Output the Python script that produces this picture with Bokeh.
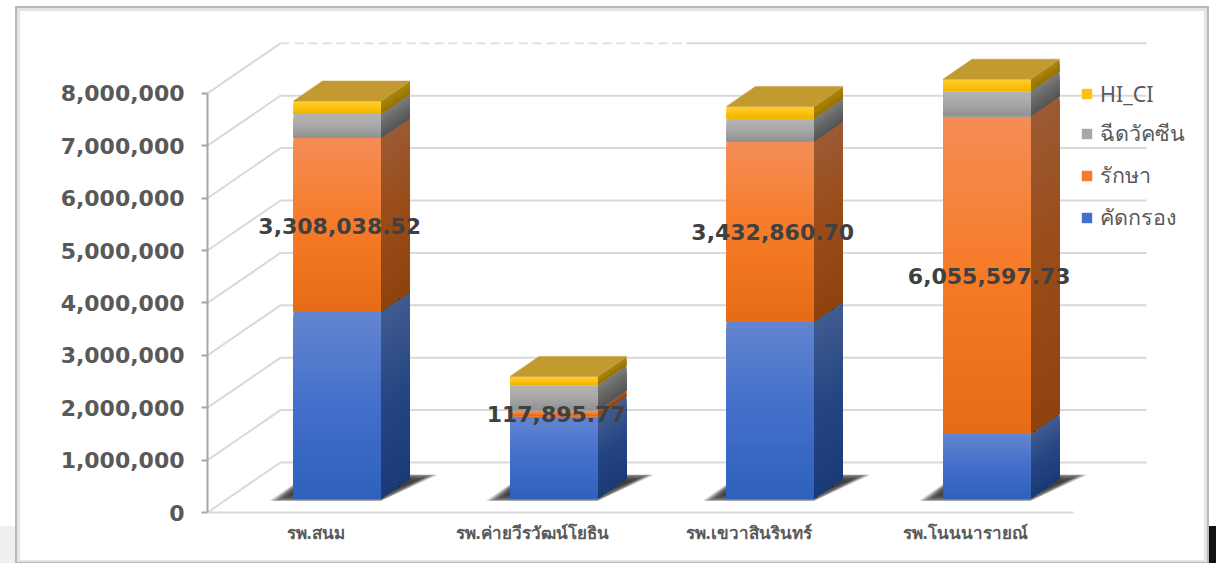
from bokeh.plotting import figure
from bokeh.models import (Range1d, FixedTicker, NumeralTickFormatter, Legend, LegendItem, LinearAxis)
from bokeh.core.properties import value
from bokeh.embed import file_html
from bokeh.resources import INLINE

# ---- data ----
hospitals = ["รพ.สนม", "รพ.ค่ายวีรวัฒน์โยธิน", "รพ.เขวาสินรินทร์", "รพ.โนนนารายณ์"]
series_names = ["คัดกรอง", "รักษา", "ฉีดวัคซีน", "HI_CI"]
screening = [3570000, 1565000, 3380000, 1240000]
treatment = [3308038.52, 117895.77, 3432860.70, 6055597.73]
vaccine = [458000, 477000, 440000, 477000]
hi_ci = [250000, 170000, 230000, 230000]
treatment_labels = ["3,308,038.52", "117,895.77", "3,432,860.70", "6,055,597.73"]
y_ticks = [0, 1000000, 2000000, 3000000, 4000000, 5000000, 6000000, 7000000, 8000000]

# ---- pixel geometry (page coordinates converted into data units) ----
W, H = 1216, 563
PXM = 52.4 / 1e6      # px per value
PXC = 216.5           # px per category
X0, Y0 = 207, 512     # position of the chart origin
FR_W = W - X0
FR_H = Y0
def dx(px): return px / PXC
def dy(px): return px / PXM

WALL_X, WALL_Y = dx(73), dy(50)
BAR_X, BAR_W = dx(21.5), dx(87.5)
BAR_Y = dy(14)
DEPTH_X, DEPTH_Y = dx(29), dy(20)

FRONT = {
    0: ["#6385d0", "#436fca", "#2f62bb"],
    1: ["#f48d55", "#f67b28", "#e76c17"],
    2: ["#b3b3b3", "#a8a8a8", "#929292"],
    3: ["#ffcb2e", "#ffc20e", "#f2b600"],
}
SIDE = {
    0: ["#415b90", "#264682", "#1b3b76"],
    1: ["#9c5a34", "#9a4c18", "#8e430e"],
    2: ["#7a7a7a", "#666666", "#565656"],
    3: ["#a8860f", "#a27d05", "#967300"],
}
TOP_COLOR = "#c29a30"
GRID = "#d9d9d9"

def mix(stops, t):
    t = t * 2
    a, b = (stops[0], stops[1]) if t <= 1 else (stops[1], stops[2])
    t = t if t <= 1 else t - 1
    ca = [int(a[i:i + 2], 16) for i in (1, 3, 5)]
    cb = [int(b[i:i + 2], 16) for i in (1, 3, 5)]
    return "#%02x%02x%02x" % tuple(round(u + (v - u) * t) for u, v in zip(ca, cb))

def rect_css(color, x, y, w, h):
    return f"linear-gradient({color},{color}) {x}px {y}px / {w}px {h}px no-repeat"

# picture frame and the photo's edge, painted behind the transparent canvas
page_bg = ", ".join([
    rect_css("#ffffff", 20, 11, 1184, 549),
    rect_css("#e4e4e4", 17, 8, 1190, 554),
    rect_css("#b8b8b8", 15, 6, 1194, 557),
    rect_css("#efefef", 0, 526, 15, 37),
    rect_css("#111111", 1209, 526, 7, 37),
])

p = figure(width=W, height=H, output_backend="svg", toolbar_location=None,
           x_range=Range1d(0, FR_W / PXC), y_range=Range1d(0, FR_H / PXM),
           min_border_left=X0, min_border_right=0, min_border_top=0,
           min_border_bottom=H - Y0, outline_line_color=None,
           background_fill_alpha=0, border_fill_alpha=0,
           x_axis_type=None, y_axis_type=None,
           styles={"background": page_bg})
p.grid.visible = False

# axes
ya = LinearAxis(ticker=FixedTicker(ticks=y_ticks), formatter=NumeralTickFormatter(format="0,0"),
                major_label_text_font="DejaVu Sans", major_label_text_font_style="bold",
                major_label_text_font_size="22px", major_label_text_color="#595959",
                axis_line_color="#a6a6a6", axis_line_width=2, major_tick_line_color="#a6a6a6",
                major_tick_line_width=2, major_tick_out=6, major_tick_in=0, minor_tick_line_color=None,
                major_label_standoff=17, bounds=(y_ticks[0], y_ticks[-1]))
p.add_layout(ya, "left")
xcenters = [i + 0.5 for i in range(len(hospitals))]
xa = LinearAxis(ticker=FixedTicker(ticks=xcenters),
                major_label_overrides={c: h for c, h in zip(xcenters, hospitals)},
                major_label_text_font="Noto Sans", major_label_text_font_style="bold",
                major_label_text_font_size="17px", major_label_text_color="#595959",
                axis_line_color=GRID, axis_line_width=2, major_tick_line_color=None,
                minor_tick_line_color=None, major_label_standoff=2, bounds=(0, len(hospitals)))
p.add_layout(xa, "below")

# walls
n_cat = len(hospitals)
solid = y_ticks[:-1]
p.segment([WALL_X] * len(solid), [v + WALL_Y for v in solid],
          [n_cat + WALL_X] * len(solid), [v + WALL_Y for v in solid],
          line_color=GRID, line_width=2)
split = dx(686 - X0)
p.segment([WALL_X], [y_ticks[-1] + WALL_Y], [split], [y_ticks[-1] + WALL_Y],
          line_color="#e2e2e2", line_width=2, line_dash="9 5")
p.segment([split], [y_ticks[-1] + WALL_Y], [n_cat + WALL_X], [y_ticks[-1] + WALL_Y],
          line_color=GRID, line_width=2)
p.segment([0] * len(y_ticks), y_ticks, [WALL_X] * len(y_ticks), [v + WALL_Y for v in y_ticks],
          line_color=GRID, line_width=2)

# bars
series = [screening, treatment, vaccine, hi_ci]
for i in range(n_cat):
    l = i + 0.5 + BAR_X - BAR_W / 2
    r = l + BAR_W
    b = BAR_Y
    # soft floor shadow, built from nested translucent shapes
    for grow in (7, 5, 3, 1, -1, -3, -5, -8, -11, -14):
        g = dx(grow)
        v = dy(min(grow, 2) * 0.35)
        p.patch([l - dx(17) - g, r, r + dx(50) + g, l + dx(14)],
                [b - dy(1.5) - v, b - dy(1.5) - v, b + dy(23) + v, b + dy(23) + v],
                fill_color="#1e1e1e", fill_alpha=0.17, line_color=None)
    for s, vals in enumerate(series):
        h = vals[i]
        n = max(3, int(h * PXM / 2))
        step = h / n
        left, right, bottom, top, colors = [], [], [], [], []
        xs, ys, side_colors = [], [], []
        for k in range(n):
            # every strip reaches down to the segment's base, the next one paints over it
            y1 = b + h - k * step
            t = k / max(1, n - 1)
            left.append(l); right.append(r); top.append(y1); bottom.append(b)
            colors.append(mix(FRONT[s], t))
            xs.append([r, r + DEPTH_X, r + DEPTH_X, r])
            ys.append([y1, y1 + DEPTH_Y, b + DEPTH_Y, b])
            side_colors.append(mix(SIDE[s], t))
        p.patches(xs, ys, fill_color=side_colors, line_color=None)
        p.quad(left=left, right=right, top=top, bottom=bottom, fill_color=colors, line_color=None)
        b += h
    p.patch([l, r, r + DEPTH_X, l + DEPTH_X], [b, b, b + DEPTH_Y, b + DEPTH_Y],
            fill_color=TOP_COLOR, line_color=TOP_COLOR, line_width=0.5)

# value labels of the treatment series
lab_x = [i + 0.5 + BAR_X + dx(2.5) for i in range(n_cat)]
lab_y = [BAR_Y + screening[i] + treatment[i] / 2 for i in range(n_cat)]
p.text(lab_x, lab_y, text=treatment_labels, text_font=value("DejaVu Sans"), text_font_style="bold",
       text_font_size="22px", text_color="#404040", text_align="center", text_baseline="middle", y_offset=1)

# legend
swatch = [mix(FRONT[s], 0.5) for s in range(4)]
items = []
for s in (3, 2, 1, 0):
    rr = p.quad(left=[0], right=[0], top=[0], bottom=[0], fill_color=swatch[s], line_color=None)
    items.append(LegendItem(label=series_names[s], renderers=[rr]))
leg = Legend(items=items, location=(1081 - X0 - 1, 278), border_line_color=None,
             background_fill_alpha=0, glyph_width=13, glyph_height=13, label_standoff=7,
             spacing=8, padding=6, margin=0, label_text_font="Noto Sans",
             label_text_font_size="21.5px", label_text_color="#595959", label_height=24)
p.add_layout(leg)

open("out.html", "w").write(file_html(p, INLINE))
